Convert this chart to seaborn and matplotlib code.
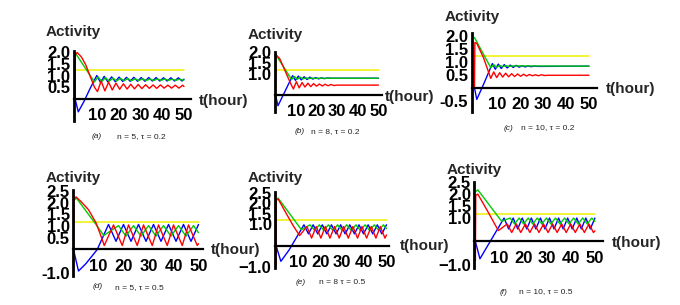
import matplotlib
matplotlib.use("Agg")
import matplotlib.pyplot as plt
import matplotlib.ticker as ticker
import seaborn as sns

# ---- data: (t in hours, activity) ----
# (a) n=5, tau=0.2
a_red_t = [0, 0.15, 1, 3, 5, 7, 9, 10.3, 12.0, 13.7, 15.4, 17.1, 18.8, 20.5, 22.2, 23.9, 25.6, 27.3,
           29.0, 30.7, 32.4, 34.1, 35.8, 37.5, 39.2, 40.9, 42.6, 44.3, 46.0, 47.7, 49.4, 50]
a_red_y = [0, 1.9, 2.0, 1.8, 1.45, 0.95, 0.48, 0.30, 0.76, 0.33, 0.71, 0.37, 0.67, 0.40, 0.64, 0.41, 0.62, 0.42,
           0.61, 0.43, 0.60, 0.44, 0.59, 0.44, 0.59, 0.45, 0.58, 0.45, 0.58, 0.45, 0.58, 0.52]
a_green_t = [0, 8.9, 10.6, 12.3, 14.0, 15.7, 17.4, 19.1, 20.8, 22.5, 24.2, 25.9, 27.6, 29.3, 31.0, 32.7,
             34.4, 36.1, 37.8, 39.5, 41.2, 42.9, 44.6, 46.3, 48.0, 49.7, 50]
a_green_y = [2.0, 0.72, 0.94, 0.74, 0.91, 0.75, 0.89, 0.76, 0.88, 0.77, 0.87, 0.77, 0.86, 0.78, 0.86, 0.78,
             0.85, 0.78, 0.85, 0.79, 0.85, 0.79, 0.84, 0.79, 0.84, 0.79, 0.81]
a_blue_t = [0, 1.5, 4, 7, 10.0, 11.7, 13.4, 15.1, 16.8, 18.5, 20.2, 21.9, 23.6, 25.3, 27.0, 28.7, 30.4,
            32.1, 33.8, 35.5, 37.2, 38.9, 40.6, 42.3, 44.0, 45.7, 47.4, 49.1, 50]
a_blue_y = [0, -0.58, -0.15, 0.45, 1.0, 0.70, 0.96, 0.72, 0.94, 0.73, 0.93, 0.74, 0.92, 0.75, 0.92, 0.75, 0.91,
            0.75, 0.91, 0.76, 0.91, 0.76, 0.90, 0.76, 0.90, 0.76, 0.90, 0.76, 0.84]
a_yellow = 1.22

# (b) n=8, tau=0.2
b_red_t = [0, 0.15, 2, 5, 7.5, 8.7, 10.1, 11.5, 12.9, 14.3, 15.7, 17.1, 18.5, 19.9, 21.3, 22.7, 24.1,
           25.5, 26.9, 28.3, 30, 50]
b_red_y = [0, 1.88, 1.7, 1.05, 0.5, 0.28, 0.62, 0.33, 0.58, 0.37, 0.55, 0.39, 0.53, 0.41, 0.51, 0.42, 0.50,
           0.43, 0.49, 0.44, 0.46, 0.46]
b_green_t = [0, 7.8, 9.2, 10.6, 12.0, 13.4, 14.8, 16.2, 17.6, 19.0, 21.0, 50]
b_green_y = [1.9, 0.72, 0.86, 0.73, 0.83, 0.75, 0.80, 0.76, 0.79, 0.77, 0.78, 0.78]
b_blue_t = [0, 1.2, 4, 8.3, 9.7, 11.1, 12.5, 13.9, 15.3, 16.7, 18.1, 19.5, 20.9, 22.3, 23.7, 25.1, 27, 50]
b_blue_y = [0, -0.5, 0.05, 0.9, 0.68, 0.88, 0.70, 0.85, 0.72, 0.83, 0.74, 0.81, 0.75, 0.80, 0.76, 0.79, 0.78, 0.78]
b_yellow = 1.18

# (c) n=10, tau=0.2
c_red_t = [0, 0.15, 1, 4, 7.1, 8.4, 9.7, 11.0, 12.3, 13.6, 14.9, 16.2, 17.5, 18.8, 20.1, 21.4, 22.7,
           24.0, 25.3, 26.6, 27.9, 29.2, 30.5, 32, 50]
c_red_y = [0, 1.75, 1.72, 1.15, 0.37, 0.62, 0.40, 0.59, 0.42, 0.57, 0.43, 0.55, 0.44, 0.54, 0.45, 0.53, 0.46,
           0.52, 0.47, 0.51, 0.47, 0.51, 0.48, 0.49, 0.49]
c_green_t = [0, 7.1, 8.4, 9.7, 11.0, 12.3, 13.6, 15.0, 17.0, 50]
c_green_y = [1.94, 0.78, 0.90, 0.80, 0.87, 0.82, 0.86, 0.83, 0.85, 0.84]
c_blue_t = [0, 1, 4, 7.8, 9.1, 10.4, 11.7, 13.0, 14.3, 15.6, 16.9, 18.2, 19.5, 20.8, 22.1, 23.4, 24.7,
            26.0, 28.0, 50]
c_blue_y = [0, -0.44, 0.15, 0.94, 0.72, 0.92, 0.75, 0.90, 0.77, 0.88, 0.79, 0.87, 0.80, 0.86, 0.81, 0.85, 0.82,
            0.84, 0.83, 0.84]
c_yellow = 1.22

# (d) n=5, tau=0.5
d_red_t = [0, 0.15, 1, 3, 6, 9, 11, 12.3, 16, 19.5, 22, 25.5, 28, 31.5, 34, 37.5, 40, 43.5, 46, 49.5, 50]
d_red_y = [-0.95, 2.1, 2.25, 2.05, 1.7, 1.14, 0.57, 0.17, 1.05, 0.17, 1.05, 0.17, 1.05, 0.17, 1.05, 0.17,
           1.05, 0.17, 1.05, 0.17, 0.25]
d_green_t = [0, 1, 6, 9, 12.1, 18, 21, 24, 27, 30, 33, 36, 39, 42, 45, 48, 50]
d_green_y = [2.05, 2.22, 1.5, 1.07, 0.6, 1.02, 0.57, 1.02, 0.57, 1.02, 0.57, 1.02, 0.57, 1.02, 0.57, 1.02, 0.72]
d_blue_t = [0, 2, 5, 9.5, 14, 17, 20, 23, 26, 29, 32, 35, 38, 41, 44, 47, 50]
d_blue_y = [0, -0.92, -0.6, 0, 1.07, 0.35, 1.07, 0.35, 1.07, 0.35, 1.07, 0.35, 1.07, 0.35, 1.07, 0.35, 1.07]
d_yellow = 1.17

# (e) n=8, tau=0.5
e_red_t = [0, 0.15, 1, 5, 8, 10.7, 14.0, 16.1, 18.2, 20.3, 22.3, 24.4, 26.5, 28.6, 30.6, 32.7, 34.8, 36.9,
           38.9, 41.0, 43.1, 45.2, 47.2, 49.3, 50]
e_red_y = [-0.95, 2.15, 2.2, 1.45, 0.9, 0.47, 0.9, 0.35, 0.9, 0.35, 0.9, 0.35, 0.9, 0.35, 0.9, 0.35, 0.9, 0.35,
           0.9, 0.35, 0.9, 0.35, 0.9, 0.35, 0.5]
e_green_t = [0, 1, 11.5, 15.4, 17.5, 19.6, 21.6, 23.7, 25.8, 27.9, 30.0, 32.0, 34.1, 36.2, 38.2, 40.3, 42.4,
             44.5, 46.5, 48.6, 50]
e_green_y = [2.2, 2.24, 0.75, 0.98, 0.71, 0.98, 0.71, 0.98, 0.71, 0.98, 0.71, 0.98, 0.71, 0.98, 0.71, 0.98, 0.71,
             0.98, 0.71, 0.98, 0.8]
e_blue_t = [0, 2.2, 6, 12.65, 14.7, 16.8, 18.9, 20.95, 23.0, 25.1, 27.2, 29.25, 31.3, 33.4, 35.5, 37.55, 39.6,
            41.7, 43.8, 45.85, 47.9, 50]
e_blue_y = [0, -0.75, -0.2, 0.98, 0.55, 0.98, 0.55, 0.98, 0.55, 0.98, 0.55, 0.98, 0.55, 0.98, 0.55, 0.98, 0.55,
            0.98, 0.55, 0.98, 0.55, 0.98]
e_yellow = 1.22

# (f) n=10, tau=0.5
f_red_t = [0, 0.15, 1, 5, 9.6, 13.3, 15.2, 17.1, 19.0, 20.9, 22.8, 24.7, 26.6, 28.5, 30.4, 32.3, 34.2, 36.1,
           38.0, 39.9, 41.8, 43.7, 45.6, 47.5, 49.4, 50]
f_red_y = [-0.8, 1.95, 2.0, 1.3, 0.46, 0.74, 0.38, 0.74, 0.38, 0.74, 0.38, 0.74, 0.38, 0.74, 0.38, 0.74, 0.38,
           0.74, 0.38, 0.74, 0.38, 0.74, 0.38, 0.74, 0.38, 0.45]
f_green_t = [0, 1, 11.0, 14.5, 16.4, 18.3, 20.2, 22.1, 24.0, 25.9, 27.8, 29.7, 31.6, 33.5, 35.4, 37.3, 39.2,
             41.1, 43.0, 44.9, 46.8, 48.7, 50]
f_green_y = [2.1, 2.18, 0.85, 0.99, 0.74, 0.99, 0.74, 0.99, 0.74, 0.99, 0.74, 0.99, 0.74, 0.99, 0.74, 0.99, 0.74,
             0.99, 0.74, 0.99, 0.74, 0.99, 0.85]
f_blue_t = [0, 1.9, 5, 12.0, 13.9, 15.8, 17.7, 19.6, 21.5, 23.4, 25.3, 27.2, 29.1, 31.0, 32.9, 34.8, 36.7,
            38.6, 40.5, 42.4, 44.3, 46.2, 48.1, 50]
f_blue_y = [0, -0.73, -0.2, 0.99, 0.53, 0.99, 0.53, 0.99, 0.53, 0.99, 0.53, 0.99, 0.53, 0.99, 0.53, 0.99, 0.53,
            0.99, 0.53, 0.99, 0.53, 0.99, 0.53, 0.99]
f_yellow = 1.16

x_ticks = [10, 20, 30, 40, 50]
captions = ["n = 5, τ = 0.2", "n = 8, τ = 0.2", "n = 10, τ = 0.2",
            "n = 5, τ = 0.5", "n = 8 τ = 0.5", "n = 10, τ = 0.5"]
tags = ["a", "b", "c", "d", "e", "f"]
y_ticks = [[0.5, 1.0, 1.5, 2.0], [1.0, 1.5, 2.0], [-0.5, 0.5, 1.0, 1.5, 2.0],
           [-1.0, 0.5, 1.0, 1.5, 2.0, 2.5], [-1.0, 1.0, 1.5, 2.0, 2.5], [-1.0, 1.0, 1.5, 2.0, 2.5]]
y_labels = [["0.5", "1.0", "1.5", "2.0"], ["1.0", "1.5", "2.0"], ["-0.5", "0.5", "1.0", "1.5", "2.0"],
            ["-1.0", "0.5", "1.0", "1.5", "2.0", "2.5"], ["\u22121.0", "1.0", "1.5", "2.0", "2.5"],
            ["\u22121.0", "1.0", "1.5", "2.0", "2.5"]]

curves = [
    (a_red_t, a_red_y, a_green_t, a_green_y, a_blue_t, a_blue_y, a_yellow),
    (b_red_t, b_red_y, b_green_t, b_green_y, b_blue_t, b_blue_y, b_yellow),
    (c_red_t, c_red_y, c_green_t, c_green_y, c_blue_t, c_blue_y, c_yellow),
    (d_red_t, d_red_y, d_green_t, d_green_y, d_blue_t, d_blue_y, d_yellow),
    (e_red_t, e_red_y, e_green_t, e_green_y, e_blue_t, e_blue_y, e_yellow),
    (f_red_t, f_red_y, f_green_t, f_green_y, f_blue_t, f_blue_y, f_yellow),
]

# ---- layout in pixels: t=0 x, px per hour, y of 0, px per unit, xlim, ylim ----
layout = [
    dict(x0=75.0, sx=2.18, y0=98.5, sy=23.0, xlim=(-0.6, 53.0), ylim=(-0.98, 2.05),
         title_y=32, tl=(199, 101), tag=(97, 137), cap=(117, 137)),
    dict(x0=275.5, sx=2.06, y0=95.0, sy=21.5, xlim=(-0.3, 51.5), ylim=(-0.8, 2.02),
         title_y=35, tl=(385, 97), tag=(300, 132), cap=(311, 132)),
    dict(x0=474.5, sx=2.29, y0=88.0, sy=26.0, xlim=(-1.2, 53.5), ylim=(-0.92, 2.1),
         title_y=17, tl=(606, 89), tag=(508, 128), cap=(521, 128)),
    dict(x0=73.5, sx=2.5, y0=249.5, sy=23.4, xlim=(-0.1, 51.8), ylim=(-1.15, 2.55),
         title_y=178, tl=(211, 250), tag=(98, 286), cap=(115, 288)),
    dict(x0=276.0, sx=2.21, y0=245.5, sy=21.1, xlim=(-0.45, 51.1), ylim=(-1.07, 2.55),
         title_y=178, tl=(400, 246), tag=(301, 283), cap=(319, 283)),
    dict(x0=475.4, sx=2.39, y0=241.5, sy=23.7, xlim=(-0.4, 53.4), ylim=(-1.12, 2.52),
         title_y=170, tl=(612, 243), tag=(504, 292), cap=(519, 292)),
]

sns.set_style("white")
plt.rcParams["font.family"] = ["Liberation Sans", "DejaVu Sans"]

W, H = 680, 305
fig = plt.figure(figsize=(W / 100, H / 100), dpi=100)

RED, GREEN, BLUE, YELLOW = "#ff0000", "#00cc00", "#0000ff", "#f0f000"

for i, (lay, cv) in enumerate(zip(layout, curves)):
    rt, ry, gt, gy, bt, by, yl = cv
    left = lay["x0"] + lay["xlim"][0] * lay["sx"]
    right = lay["x0"] + lay["xlim"][1] * lay["sx"]
    top = lay["y0"] - lay["ylim"][1] * lay["sy"]
    bottom = lay["y0"] - lay["ylim"][0] * lay["sy"]
    ax = fig.add_axes([left / W, 1 - bottom / H, (right - left) / W, (bottom - top) / H])
    ax.patch.set_alpha(0)

    sns.lineplot(x=[0, 50], y=[yl, yl], color=YELLOW, lw=1.1, ax=ax, estimator=None, sort=False)
    sns.lineplot(x=bt, y=by, color=BLUE, lw=1.0, ax=ax, estimator=None, sort=False)
    sns.lineplot(x=gt, y=gy, color=GREEN, lw=1.0, ax=ax, estimator=None, sort=False)
    sns.lineplot(x=rt, y=ry, color=RED, lw=1.0, ax=ax, estimator=None, sort=False)

    ax.set_xlim(*lay["xlim"])
    ax.set_ylim(*lay["ylim"])
    for s in ["top", "right"]:
        ax.spines[s].set_visible(False)
    ax.spines["left"].set_linewidth(2.0)
    ax.spines["bottom"].set_linewidth(1.6)
    ax.spines["bottom"].set_position(("data", 0))
    ax.spines["left"].set_color("black")
    ax.spines["bottom"].set_color("black")

    ax.set_xticks(x_ticks)
    ax.xaxis.set_minor_locator(ticker.MultipleLocator(2))
    ax.set_yticks(y_ticks[i])
    ax.set_yticklabels(y_labels[i])
    ax.yaxis.set_minor_locator(ticker.MultipleLocator(0.1))
    ax.tick_params(axis="x", which="major", direction="inout", length=4, width=1.2, pad=4.5,
                   labelsize=12, colors="black")
    ax.tick_params(axis="x", which="minor", direction="inout", length=2.5, width=0.8)
    ax.tick_params(axis="y", which="major", direction="inout", length=4, width=1.2, pad=0.5,
                   labelsize=12, colors="black")
    ax.tick_params(axis="y", which="minor", direction="in", length=2, width=0.6)
    for lab in ax.get_xticklabels() + ax.get_yticklabels():
        lab.set_fontweight("bold")
    ax.set_xlabel("")
    ax.set_ylabel("")

    spine_x = left
    fig.text(spine_x / W, 1 - lay["title_y"] / H, "Activity", ha="center", va="center",
             fontsize=11, fontweight="bold")
    fig.text(lay["tl"][0] / W, 1 - lay["tl"][1] / H, "t(hour)", ha="left", va="center",
             fontsize=11, fontweight="bold")
    fig.text(lay["tag"][0] / W, 1 - lay["tag"][1] / H, "(" + tags[i] + ")", ha="center", va="center",
             fontsize=6, style="italic", color="#222222")
    fig.text(lay["cap"][0] / W, 1 - lay["cap"][1] / H, captions[i], ha="left", va="center",
             fontsize=6, color="#222222")

fig.savefig("out.png", dpi=100)
